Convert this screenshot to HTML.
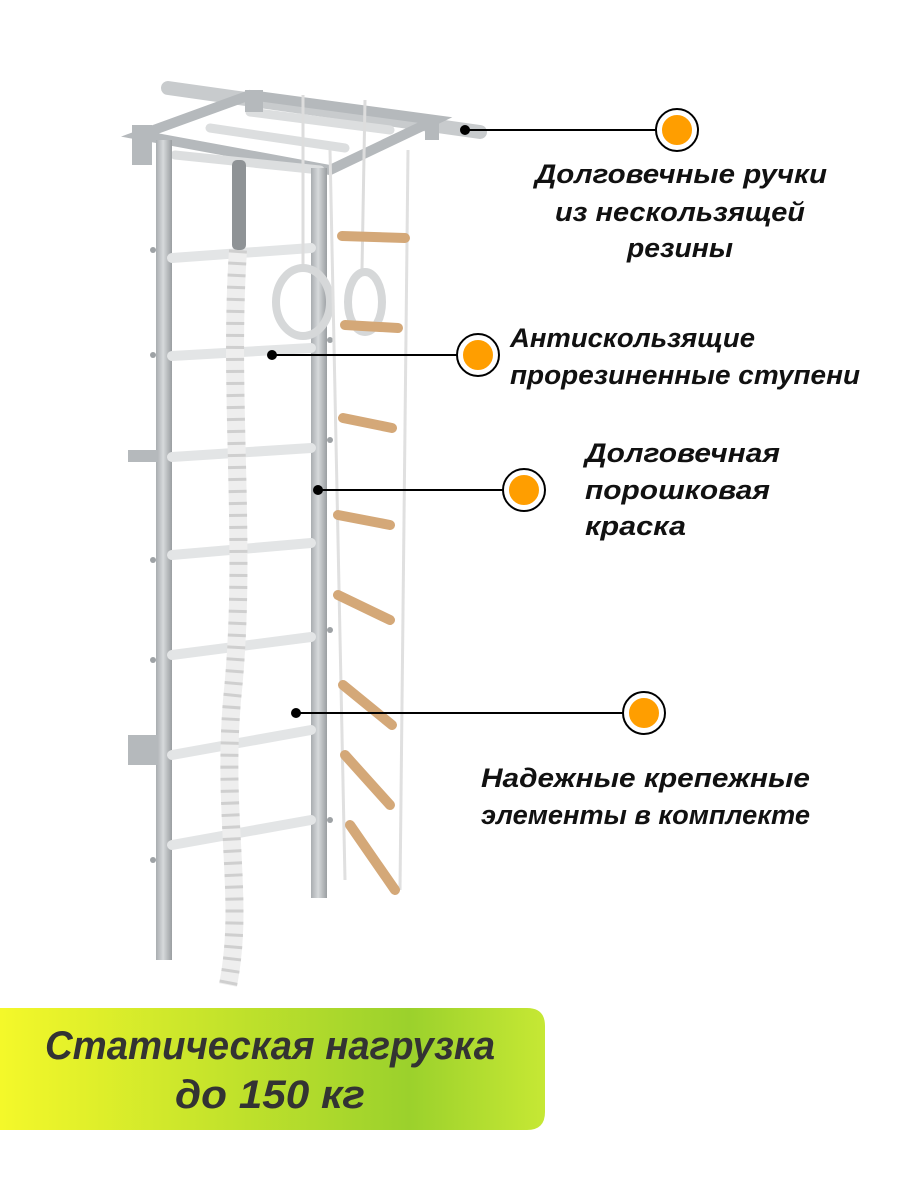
<!DOCTYPE html>
<html><head><meta charset="utf-8"><style>
html,body{margin:0;padding:0;background:#fff;}
svg{display:block;}
text{font-family:"Liberation Sans",sans-serif;font-weight:bold;font-style:italic;fill:#111;}
</style></head><body>
<svg width="900" height="1200" viewBox="0 0 900 1200">
<defs>
<linearGradient id="ban" x1="0" x2="1" y1="0" y2="0">
<stop offset="0" stop-color="#f4f82a"/><stop offset="0.75" stop-color="#9bd12c"/><stop offset="1" stop-color="#c6e834"/>
</linearGradient>
<linearGradient id="pole" x1="0" x2="1"><stop offset="0" stop-color="#a9adb0"/><stop offset="0.45" stop-color="#d6d9db"/><stop offset="1" stop-color="#9a9ea1"/></linearGradient>
</defs>
<path d="M168,88 L480,132" stroke="#c8cbcd" stroke-width="14" stroke-linecap="round"/>
<path d="M140,135 L330,170 L435,120 L250,95 Z" fill="none" stroke="#b5b9bc" stroke-width="10"/>
<g stroke="#dcdedf" stroke-width="9" stroke-linecap="round">
<line x1="175" y1="155" x2="320" y2="170"/><line x1="210" y1="128" x2="345" y2="148"/><line x1="250" y1="112" x2="390" y2="130"/>
</g>
<rect x="132" y="125" width="20" height="40" fill="#b5b9bc"/>
<rect x="245" y="90" width="18" height="22" fill="#b5b9bc"/>
<rect x="425" y="118" width="14" height="22" fill="#b5b9bc"/>
<rect x="156" y="140" width="16" height="820" fill="url(#pole)"/>
<rect x="311" y="168" width="16" height="730" fill="url(#pole)"/>
<rect x="128" y="450" width="30" height="12" fill="#b5b9bc"/>
<rect x="128" y="735" width="30" height="30" fill="#b5b9bc"/>
<g stroke="#e3e5e6" stroke-width="10" stroke-linecap="round">
<line x1="172" y1="258" x2="311" y2="248"/><line x1="172" y1="356" x2="311" y2="348"/>
<line x1="172" y1="457" x2="311" y2="448"/><line x1="172" y1="555" x2="311" y2="543"/>
<line x1="172" y1="655" x2="311" y2="637"/><line x1="172" y1="755" x2="311" y2="730"/>
<line x1="172" y1="845" x2="311" y2="820"/>
</g>
<g fill="#9ea2a5">
<circle cx="153" cy="250" r="3"/><circle cx="153" cy="355" r="3"/><circle cx="153" cy="560" r="3"/><circle cx="153" cy="660" r="3"/><circle cx="153" cy="860" r="3"/>
<circle cx="330" cy="340" r="3"/><circle cx="330" cy="440" r="3"/><circle cx="330" cy="630" r="3"/><circle cx="330" cy="820" r="3"/>
</g>
<rect x="232" y="160" width="14" height="90" rx="5" fill="#8f9396"/>
<path d="M238,250 C228,400 248,550 232,700 C222,820 245,900 228,985" stroke="#eeeeee" stroke-width="18" fill="none"/>
<path d="M238,250 C228,400 248,550 232,700 C222,820 245,900 228,985" stroke="#cfcfcf" stroke-width="18" stroke-dasharray="3 9" fill="none"/>
<line x1="303" y1="95" x2="303" y2="270" stroke="#ddd" stroke-width="3"/>
<line x1="365" y1="100" x2="362" y2="270" stroke="#ddd" stroke-width="3"/>
<ellipse cx="303" cy="302" rx="27" ry="34" fill="none" stroke="#d6d8d9" stroke-width="8"/>
<ellipse cx="365" cy="302" rx="17" ry="30" fill="none" stroke="#d6d8d9" stroke-width="8"/>
<path d="M330,150 L345,880" stroke="#e0e0e0" stroke-width="3" fill="none"/>
<path d="M408,150 L400,890" stroke="#e0e0e0" stroke-width="3" fill="none"/>
<g stroke="#d4a878" stroke-width="10" stroke-linecap="round">
<line x1="342" y1="236" x2="405" y2="238"/><line x1="345" y1="325" x2="398" y2="328"/>
<line x1="343" y1="418" x2="392" y2="428"/><line x1="338" y1="515" x2="390" y2="525"/>
<line x1="338" y1="595" x2="390" y2="620"/><line x1="343" y1="685" x2="392" y2="725"/>
<line x1="345" y1="755" x2="390" y2="805"/><line x1="350" y1="825" x2="395" y2="890"/>
</g>
<g stroke="#000" stroke-width="2">
<line x1="465" y1="130" x2="657" y2="130"/><line x1="272" y1="355" x2="458" y2="355"/>
<line x1="318" y1="490" x2="504" y2="490"/><line x1="296" y1="713" x2="624" y2="713"/>
</g>
<g fill="#000"><circle cx="465" cy="130" r="5"/><circle cx="272" cy="355" r="5"/><circle cx="318" cy="490" r="5"/><circle cx="296" cy="713" r="5"/></g>
<g fill="#ff9e00" stroke="#fff" stroke-width="4">
<circle cx="677" cy="130" r="17"/><circle cx="478" cy="355" r="17"/><circle cx="524" cy="490" r="17"/><circle cx="644" cy="713" r="17"/>
</g>
<g fill="none" stroke="#000" stroke-width="2">
<circle cx="677" cy="130" r="21"/><circle cx="478" cy="355" r="21"/><circle cx="524" cy="490" r="21"/><circle cx="644" cy="713" r="21"/>
</g>
<g font-size="27">
<text x="535" y="183" textLength="292" lengthAdjust="spacingAndGlyphs">Долговечные ручки</text>
<text x="555" y="221" textLength="250" lengthAdjust="spacingAndGlyphs">из нескользящей</text>
<text x="627" y="257" textLength="106" lengthAdjust="spacingAndGlyphs">резины</text>
<text x="510" y="347" textLength="245" lengthAdjust="spacingAndGlyphs">Антискользящие</text>
<text x="510" y="384" textLength="350" lengthAdjust="spacingAndGlyphs">прорезиненные ступени</text>
<text x="585" y="462" textLength="195" lengthAdjust="spacingAndGlyphs">Долговечная</text>
<text x="585" y="499" textLength="185" lengthAdjust="spacingAndGlyphs">порошковая</text>
<text x="585" y="535" textLength="101" lengthAdjust="spacingAndGlyphs">краска</text>
<text x="481" y="787" textLength="329" lengthAdjust="spacingAndGlyphs">Надежные крепежные</text>
<text x="481" y="824" textLength="329" lengthAdjust="spacingAndGlyphs">элементы в комплекте</text>
</g>
<path d="M0,1008 H527 Q545,1008 545,1026 V1112 Q545,1130 527,1130 H0 Z" fill="url(#ban)"/>
<g font-size="40">
<text x="45" y="1059" textLength="450" lengthAdjust="spacingAndGlyphs" style="fill:#333">Статическая нагрузка</text>
<text x="175" y="1108" textLength="190" lengthAdjust="spacingAndGlyphs" style="fill:#333">до 150 кг</text>
</g>
</svg>
</body></html>
